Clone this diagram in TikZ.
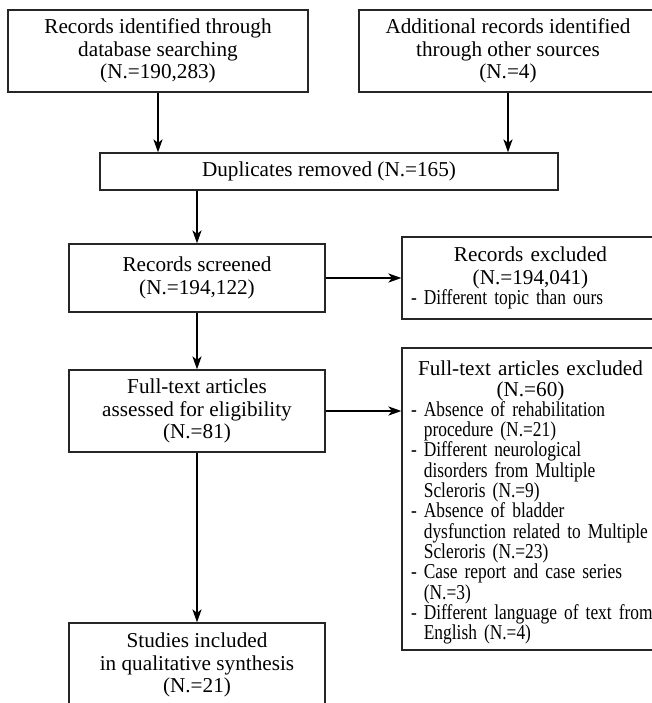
\documentclass[tikz,border=0pt]{standalone}
\usepackage{fontspec}
\setmainfont{Liberation Serif}
\newfontfamily\estrecha{Liberation Serif}[FakeStretch=0.82]
\usetikzlibrary{arrows.meta}
\newcommand{\lista}{\estrecha\fontsize{10.6}{10.15}\selectfont}
\newcommand{\punto}[1]{\mbox{- #1}\\}
\newcommand{\sigue}[1]{\mbox{\phantom{- }#1}\\}
\begin{document}
\begin{tikzpicture}[
    x=0.5pt, y=-0.5pt,
    >={Stealth[length=6.5pt,width=4.6pt,inset=1.8pt]},
    every node/.style={font=\fontsize{10.6}{11.2}\selectfont},
    etapa/.style={draw=black!85, line width=0.7pt, align=center, inner sep=0pt},
    exclusion/.style={draw=black!85, line width=0.7pt, align=left, inner xsep=4.5pt, inner ysep=0pt, text width=119.5pt}
]
\useasboundingbox (0,0) rectangle (652,703);
% Identificacion
\node[etapa, minimum width=150pt, minimum height=41pt] (identificados) at (158,51) {Records identified through\\database searching\\(N.=190,283)};
\node[etapa, minimum width=149pt, minimum height=41pt] (otras) at (508,51) {Additional records identified\\through other sources\\(N.=4)};
% Cribado
\node[etapa, minimum width=229pt, minimum height=18.5pt] (duplicados) at (329,171.5) {Duplicates removed (N.=165)};
\node[etapa, minimum width=128pt, minimum height=34pt] (cribados) at (197,278) {Records screened\\(N.=194,122)};
\node[exclusion, minimum height=41pt] (excluidos1) at (530.5,278) {{\centering Records excluded\\(N.=194,041)\par}
{\lista\mbox{- Different topic than ours}\par}};
% Elegibilidad
\node[etapa, minimum width=128pt, minimum height=41pt] (evaluados) at (197,411) {Full-text articles\\assessed for eligibility\\(N.=81)};
\node[exclusion, minimum height=151pt] (excluidos2) at (530.5,499) {{\fontsize{10.6}{10.15}\selectfont\centering\rule{0pt}{11pt}Full-text articles excluded\\(N.=60)\par}
{\lista
\punto{Absence of rehabilitation}
\sigue{procedure (N.=21)}
\punto{Different neurological}
\sigue{disorders from Multiple}
\sigue{Scleroris (N.=9)}
\punto{Absence of bladder}
\sigue{dysfunction related to Multiple}
\sigue{Scleroris (N.=23)}
\punto{Case report and case series}
\sigue{(N.=3)}
\punto{Different language of text from}
\mbox{\phantom{- }English (N.=4)}\par}};
% Incluidos
\node[etapa, minimum width=128pt, minimum height=42pt] (incluidos) at (197,665) {Studies included\\in qualitative synthesis\\(N.=21)};
% Aristas
\draw[->, line width=0.7pt] (identificados) -- (identificados |- duplicados.north);
\draw[->, line width=0.7pt] (otras) -- (otras |- duplicados.north);
\draw[->, line width=0.7pt] (duplicados.south -| cribados) -- (cribados);
\draw[->, line width=0.7pt] (cribados) -- (excluidos1);
\draw[->, line width=0.7pt] (cribados) -- (evaluados);
\draw[->, line width=0.7pt] (evaluados) -- (evaluados -| excluidos2.west);
\draw[->, line width=0.7pt] (evaluados) -- (incluidos);
\end{tikzpicture}
\end{document}
